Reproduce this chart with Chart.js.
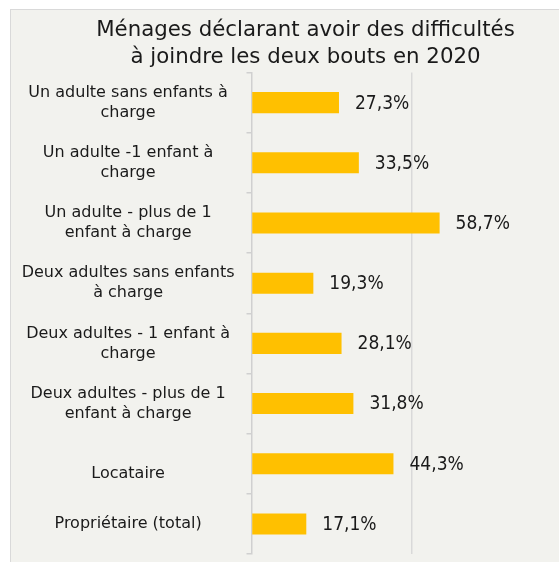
<!DOCTYPE html>
<html>
<head>
<meta charset="utf-8">
<script src="https://cdn.jsdelivr.net/npm/chart.js@4.4.1/dist/chart.umd.min.js"></script>
<style>
  html, body { margin: 0; padding: 0; background: #ffffff; overflow: hidden; width: 559px; height: 562px; }
  #box {
    position: absolute; left: 10px; top: 9px; width: 600px; height: 576px;
    background: #F2F2EE; border-left: 1.5px solid #D9D9D9; border-top: 1.5px solid #D9D9D9;
  }
  #wrap { position: absolute; left: 0; top: 0; width: 600px; height: 576px; }
</style>
</head>
<body>
<div id="box"><div id="wrap"><canvas id="c"></canvas></div></div>
<script>
const titleLines = ["Ménages déclarant avoir des difficultés", "à joindre les deux bouts en 2020"];
const categories = [
  ["Un adulte sans enfants à", "charge"],
  ["Un adulte -1 enfant à", "charge"],
  ["Un adulte - plus de 1", "enfant à charge"],
  ["Deux adultes sans enfants", "à charge"],
  ["Deux adultes - 1 enfant à", "charge"],
  ["Deux adultes - plus de 1", "enfant à charge"],
  ["", "Locataire"],
  "Propriétaire (total)"
];
const values = [27.3, 33.5, 58.7, 19.3, 28.1, 31.8, 44.3, 17.1];
const xTicks = [0, 50, 100];

const FONT = "'DejaVu Sans', sans-serif";
const VFONT = "'DejaVu Sans Condensed', 'DejaVu Sans', sans-serif";

const valueLabels = {
  id: 'valueLabels',
  afterDatasetsDraw(chart) {
    const ctx = chart.ctx;
    const meta = chart.getDatasetMeta(0);
    ctx.save();
    ctx.font = "19px " + VFONT;
    ctx.fillStyle = "#1a1a1a";
    ctx.textAlign = "left";
    ctx.textBaseline = "middle";
    meta.data.forEach((bar, i) => {
      const txt = values[i].toFixed(1).replace('.', ',') + '%';
      ctx.fillText(txt, bar.x + 16, bar.y + 1);
    });
    ctx.restore();
  }
};

new Chart(document.getElementById('c'), {
  type: 'bar',
  data: {
    labels: categories,
    datasets: [{
      data: values,
      backgroundColor: '#FFC000',
      borderWidth: 0,
      barPercentage: 0.35,
      categoryPercentage: 1.0
    }]
  },
  options: {
    indexAxis: 'y',
    responsive: true,
    maintainAspectRatio: false,
    animation: false,
    devicePixelRatio: 1,
    layout: { padding: { left: 0, right: 11, top: 7, bottom: 10 } },
    plugins: {
      legend: { display: false },
      tooltip: { enabled: false },
      title: {
        display: true,
        text: titleLines,
        color: '#1a1a1a',
        font: { family: FONT, size: 21.3, weight: 'normal', lineHeight: 1.28 },
        padding: { top: 0, bottom: 1 }
      }
    },
    scales: {
      x: {
        min: 0, max: 108.75,
        afterBuildTicks(scale) { scale.ticks = xTicks.map(v => ({ value: v })); },
        ticks: { display: false },
        border: { display: false },
        grid: {
          drawTicks: false,
          color: (c) => c.tick && c.tick.value === 0 ? 'rgba(0,0,0,0)' : '#D9D9D9',
          lineWidth: 1.5
        }
      },
      y: {
        afterFit(scale) { scale.width = 240.5; },
        border: { display: true, color: '#D0D0D0', width: 1.5 },
        grid: { drawOnChartArea: false, drawTicks: true, tickLength: 5, color: '#D0D0D0', lineWidth: 1.5 },
        ticks: {
          crossAlign: 'center',
          padding: 12,
          color: '#1a1a1a',
          font: { family: FONT, size: 16, lineHeight: 1.25 }
        }
      }
    }
  },
  plugins: [valueLabels]
});
</script>
</body>
</html>
